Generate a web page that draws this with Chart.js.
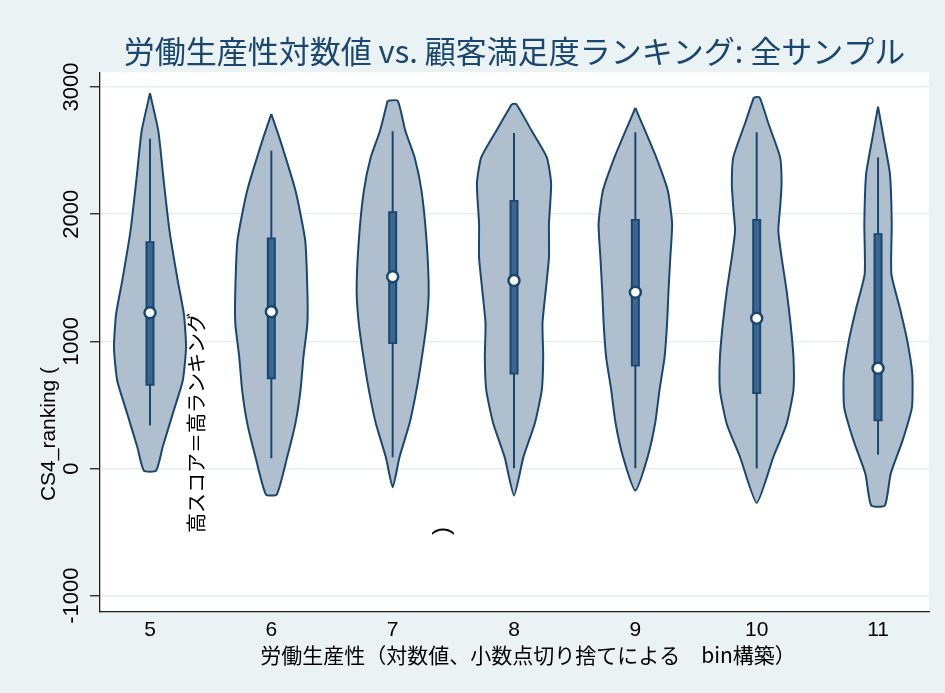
<!DOCTYPE html>
<html>
<head>
<meta charset="utf-8">
<script src="https://cdn.jsdelivr.net/npm/chart.js@4"></script>
<style>
  body { margin: 0; background: #eaf2f3; }
  #wrap { width: 945px; height: 693px; }
</style>
</head>
<body>
<div id="wrap"><canvas id="violin" width="945" height="693"></canvas></div>
<script>
// bins of log labour productivity
const categories = [5, 6, 7, 8, 9, 10, 11];

// box plot parts, CS4_ranking
const medians   = [1226, 1234, 1509, 1478, 1386, 1182, 789];
const q1        = [652, 702, 980, 739, 802, 587, 372];
const q3        = [1787, 1818, 2023, 2112, 1963, 1963, 1850];
const whiskerLo = [338, 81, 89, 2, 2, 0, 108];
const whiskerHi = [2594, 2500, 2652, 2639, 2644, 2644, 2447];

const yTicks = [-1000, 0, 1000, 2000, 3000];

// violin outlines: [ranking, relative density], top to bottom
const density5  = [[2951, 0], [2657, 0.23], [2264, 0.38], [1871, 0.54], [1478, 0.77], [1216, 0.94], [954, 1.0], [692, 0.91], [430, 0.63], [167, 0.35], [-16, 0.17]];
const density6  = [[2788, 0], [2579, 0.25], [2186, 0.67], [1793, 0.94], [1400, 1.0], [1140, 1.0], [875, 0.89], [617, 0.81], [358, 0.67], [90, 0.44], [-204, 0.15]];
const density7  = [[2893, 0.14], [2657, 0.35], [2447, 0.61], [2186, 0.8], [1793, 0.94], [1400, 1.0], [1140, 0.94], [875, 0.81], [617, 0.66], [358, 0.47], [90, 0.19], [-147, 0]];
const density8  = [[2867, 0.06], [2657, 0.49], [2447, 0.91], [2240, 1.03], [1926, 0.97], [1661, 0.97], [1400, 0.88], [1140, 0.79], [875, 0.81], [617, 0.77], [358, 0.58], [90, 0.26], [-212, 0]];
const density9  = [[2836, 0], [2657, 0.27], [2447, 0.58], [2186, 0.9], [1926, 1.02], [1661, 0.97], [1400, 0.92], [1140, 0.88], [875, 0.81], [617, 0.67], [358, 0.55], [90, 0.34], [-173, 0]];
const density10 = [[2919, 0.08], [2710, 0.33], [2447, 0.65], [2238, 0.69], [2054, 0.65], [1871, 0.6], [1661, 0.69], [1400, 0.83], [1138, 0.94], [875, 1.02], [617, 1.02], [351, 0.83], [89, 0.46], [-270, 0]];
const density11 = [[2846, 0], [2579, 0.17], [2317, 0.33], [1924, 0.38], [1531, 0.37], [1268, 0.6], [1006, 0.81], [745, 0.95], [482, 0.94], [220, 0.68], [-42, 0.35], [-291, 0.19]];
const densities = [density5, density6, density7, density8, density9, density10, density11];

const NAVY = '#1a476f';
const VIOLIN_FILL = '#afbfce';
const HALF = 0.297; // max half width of a violin, in x units
const CJK = "'Noto Sans CJK JP', sans-serif";
const SANS = "'Liberation Sans', Arial, 'Noto Sans CJK JP', sans-serif";

Chart.defaults.font.family = SANS;
Chart.defaults.color = '#000';

// closed outline: down the left side, back up the right side
function outline(c, prof) {
    const left = prof.map(([y, d]) => ({ x: c - HALF * d, y }));
    const right = prof.slice().reverse().filter(([y, d]) => d > 0).map(([y, d]) => ({ x: c + HALF * d, y }));
    return [...left, ...right, left[0]];
}

// vertical segments, one per bin, split by gaps
function segments(lo, hi) {
    const out = [];
    categories.forEach((c, i) => {
        out.push({ x: c, y: lo[i] }, { x: c, y: hi[i] }, { x: c, y: null });
    });
    return out;
}

const violinSets = categories.map((c, i) => ({
    data: outline(c, densities[i]),
    showLine: true,
    fill: 'shape',
    backgroundColor: VIOLIN_FILL,
    borderColor: NAVY,
    borderWidth: 2,
    pointRadius: 0,
    tension: 0.18,
    order: 5
}));

const datasets = [
    ...violinSets,
    {
        data: segments(whiskerLo, whiskerHi),
        showLine: true, borderColor: NAVY, borderWidth: 2, pointRadius: 0, order: 4
    },
    {
        data: segments(q1, q3),
        showLine: true, borderColor: NAVY, borderWidth: 9, borderCapStyle: 'butt', pointRadius: 0, order: 3
    },
    {
        data: segments(q1.map(v => v + 14), q3.map(v => v - 14)),
        showLine: true, borderColor: '#3a6690', borderWidth: 5, borderCapStyle: 'butt', pointRadius: 0, order: 2
    },
    {
        data: categories.map((c, i) => ({ x: c, y: medians[i] })),
        showLine: false, pointRadius: 5.5, pointBackgroundColor: '#fff',
        pointBorderColor: NAVY, pointBorderWidth: 2.5, order: 1
    }
];

const plotBg = {
    id: 'plotBg',
    beforeDraw(chart) {
        const { ctx, chartArea: a } = chart;
        ctx.save();
        ctx.fillStyle = '#eaf2f3';
        ctx.fillRect(0, 0, chart.width, chart.height);
        ctx.fillStyle = '#fff';
        ctx.fillRect(a.left, a.top, a.right - a.left, a.bottom - a.top);
        ctx.restore();
    }
};

function drawText(ctx, text, x, y, font, angle) {
    ctx.save();
    ctx.translate(x, y);
    ctx.rotate(angle);
    ctx.font = font;
    ctx.fillStyle = '#000';
    ctx.textAlign = 'center';
    ctx.textBaseline = 'middle';
    ctx.fillText(text, 0, 0);
    ctx.restore();
}

// axis titles; the y title is split over three spots as in the original
const axisTitles = {
    id: 'axisTitles',
    afterDraw(chart) {
        const ctx = chart.ctx;
        const up = -Math.PI / 2;
        drawText(ctx, 'CS4_ranking (', 49, 434, '21px ' + SANS, up);
        drawText(ctx, '高スコア＝高ランキング', 196, 423, '20px ' + CJK, up);
        drawText(ctx, ')', 442, 531, '24px ' + SANS, up);
        drawText(ctx, '労働生産性（対数値、小数点切り捨てによる　bin構築）', 528, 655, '21px ' + CJK, 0);
    }
};

new Chart(document.getElementById('violin'), {
    type: 'scatter',
    data: { datasets },
    options: {
        responsive: false,
        animation: false,
        layout: { padding: { left: 0, right: 16, top: 0, bottom: 0 } },
        plugins: {
            legend: { display: false },
            tooltip: { enabled: false },
            title: {
                display: true,
                fullSize: false,
                text: '労働生産性対数値 vs. 顧客満足度ランキング: 全サンプル',
                color: NAVY,
                font: { family: CJK, size: 31, weight: 'normal', lineHeight: 1.2 },
                padding: { top: 33, bottom: 2 }
            }
        },
        scales: {
            x: {
                type: 'linear',
                min: 4.588,
                max: 11.42,
                afterBuildTicks: s => { s.ticks = categories.map(v => ({ value: v })); },
                afterFit: s => { s.height = 81; },
                grid: { display: false, drawTicks: false },
                border: { display: true, color: '#222', width: 1.3 },
                ticks: { font: { size: 21 }, padding: 6, maxRotation: 0, autoSkip: false, callback: v => String(v) }
            },
            y: {
                min: -1128,
                max: 3117,
                afterBuildTicks: s => { s.ticks = yTicks.map(v => ({ value: v })); },
                afterFit: s => { s.width = 100; },
                grid: { color: '#e6eef1', lineWidth: 1.5, tickLength: 10, tickColor: '#222', tickWidth: 1.3 },
                border: { display: true, color: '#222', width: 1.3 },
                ticks: {
                    font: { size: 22 },
                    minRotation: 90, maxRotation: 90,
                    crossAlign: 'center',
                    padding: -10,
                    callback: v => String(v)
                }
            }
        }
    },
    plugins: [plotBg, axisTitles]
});
</script>
</body>
</html>
